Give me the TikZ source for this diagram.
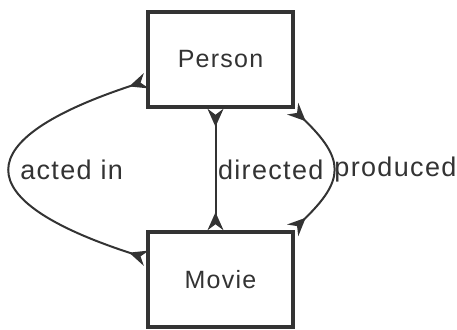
\documentclass[tikz,border=0pt]{standalone}
\usepackage{fontspec}
\setmainfont{Liberation Sans}[LetterSpace=5]
\usetikzlibrary{arrows.meta}
\definecolor{inkgray}{RGB}{51,51,51}
\begin{document}
\begin{tikzpicture}[x=1pt, y=1pt,
  entity/.style={draw=inkgray, line width=3.5pt, fill=white, minimum width=145pt, minimum height=95pt, inner sep=0pt, text=inkgray, font=\fontsize{25}{30}\selectfont},
  relation/.style={draw=inkgray, line width=2pt, {Stealth[reversed, inset=6pt, length=18pt, width=16pt]}-{Stealth[reversed, inset=6pt, length=18pt, width=16pt]}},
  rellabel/.style={text=inkgray, inner sep=1.5pt, font=\fontsize{27}{32}\selectfont}]
\useasboundingbox (0,0) rectangle (457,329);
\node[entity] (person) at (220.5,269.5) {Person};
\node[entity] (movie) at (220.5,49.5) {Movie};
\draw[relation] (person.196) .. controls (-33,189) and (-33,129) .. (movie.164) node[rellabel, right, xshift=6pt, pos=0.5] {acted in};
\draw[relation] ([xshift=-5pt]person.south) -- node[rellabel, right] {directed} ([xshift=-5pt]movie.north);
\draw[relation] ([xshift=-2pt]person.south east) .. controls (345,170) and (345,149) .. ([xshift=-2pt]movie.north east) node[rellabel, right, pos=0.5] {produced};
\end{tikzpicture}
\end{document}
